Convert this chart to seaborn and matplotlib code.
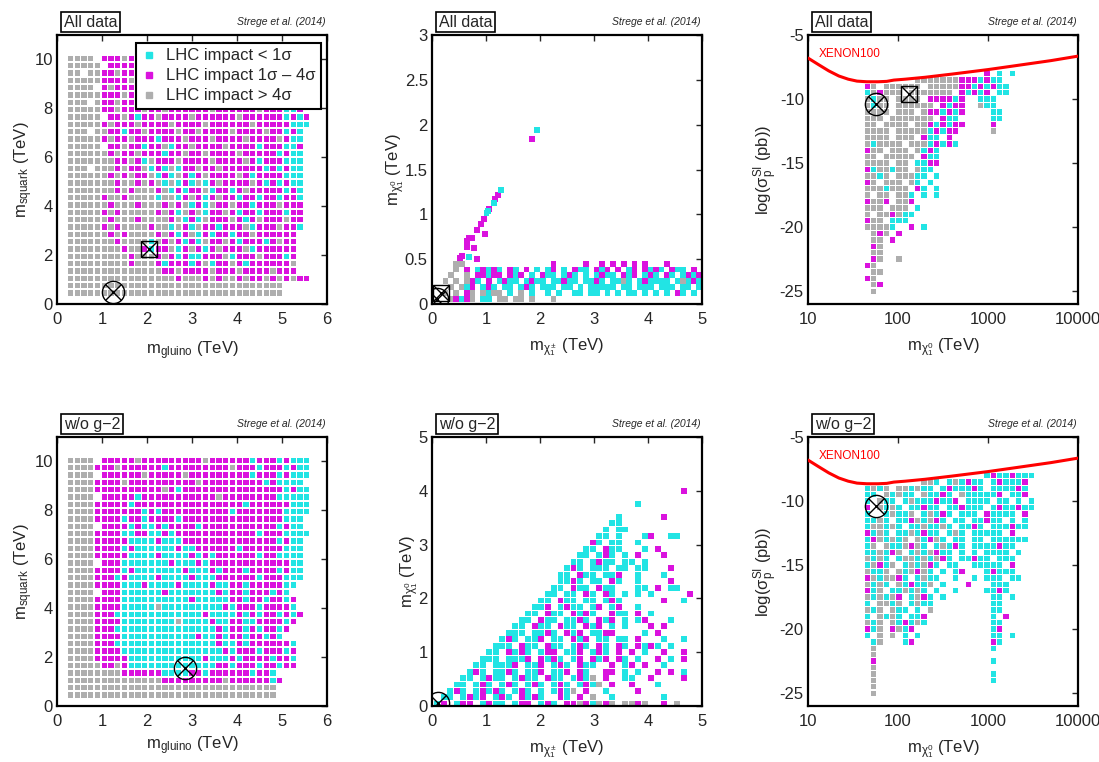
import matplotlib
matplotlib.use("Agg")
import matplotlib.pyplot as plt
from matplotlib.lines import Line2D
from matplotlib.ticker import FuncFormatter, NullLocator
import numpy as np
import pandas as pd
import seaborn as sns

# ---- data ----------------------------------------------------------------
# Occupancy maps of the scatter clouds: one character per cell,
# c = LHC impact < 1 sigma, m = 1-4 sigma, g = > 4 sigma, . = empty.
# Rows run from the top of the cloud downwards.

# gluino/squark, all data: x = 0.3 + 0.15*i TeV, y = 10.05 - 0.3*j TeV
SQUARK_ALL_MAP = [
    "gggg.mmmgmmmmmmmmmmmmmmmmmmmmmmmmm..",
    "ggggg.mmmmgmmmmmmmmmmmmmmmmmmmmmmm..",
    "gg.ggmmgmmmmmmmmmmmmmmmmmmmmmmmmmm..",
    "gggggmmmmgmmmmmmmmmmmmmmmmmmmmmmmmm.",
    "gggg.mgmmmmmmmmmmmmmmmmmmmmmmmmmmmm.",
    "gggggmmmgmmmmmmmmmmmmmmmmmmmmmmmmmmm",
    "ggg.gmmgmmcmmmmmmmmmmmmmmmmmmmmmmmmm",
    "gggggmmgmmmgmmgmmmmmmgmmmmmmgmmmccm",
    "ggggg.mmgmcmmgmmmmgmmmmmmgmmmmmmcmcm",
    "gggggmgmmmgmmmmgmmmmgmmmmmmgmmmmmccc",
    "ggg.ggmmcmmgmmmmgmmgmmmmgmmmmgmmcmc.",
    "gggggmgmmgmmmcmmmgmmmgmmmmgmmmmgmcc.",
    "ggggg.mmgmmcmmgcmmgmmmmgmmmmcmmmccm.",
    "ggggggmgmmgmmmcmmgmmgmmmmgmmmmmcmcc.",
    "gggggggmmgmcgmmmgmmmmgmmmmgmcmmmccc.",
    "ggg.gggmgmmgcmcgcmmgmmgmmmmmmcmcmcc.",
    "ggggggmgmgmmgcmcgmcmgmmmmgmcmmmmccc.",
    "gggggggmggmgmgcgcmcgcmgmmmmgmcmcmcc.",
    "gggggggmgmgggmgcmcmmgcmmcmgmmmmmcmc.",
    "gggggmggmggggcggcmgmcmgmmcmmcmmcmmc.",
    "ggggggmgggmgggmgmgcmcgmmgmmcmmmgmmm.",
    "gggggmgmgggggmgmcgmgcmmgmcmmcmmmcmm.",
    "ggggggmgggmggggmgcmcgmmmgmcmgmmmgmm.",
    "gggggmgmggggmggcgmcgmmcmmmgcmmmgmmc.",
    "ggggggmgmggggmgmcmgcmcmmcmmgmmmmmm..",
    "gggggggmggggcgmgmcmcgmmgmcmmmcmgmm..",
    "ggggggggmggmcmmgcmgmcmgmmmgcmmmmmm..",
    "gggggggggmgggmgmcmccmmmgcmmmgmmmcm..",
    "gggggggggmgggmcmmmcmgcmmgmcmmmmmmg..",
    "ggggggggggggggmmgmmmmgmmmgmmmmgmmm..",
    "ggggggggggggggggmgggmgmggmgmmgmgmgmm..",
    "gggggggggggggggggggggggggggggggg....",
    "gggggggggggggggggggggggggggggggg....",
]

# gluino/squark, without g-2: same cell grid as above
SQUARK_NOG2_MAP = [
    "gggg.mmmmmgmmmmmmmmmgmmmmmmcmmmcmccc",
    "ggggmmmgmmmmmmcmmmmmmmmmgmmmcmmmcmcc",
    "gggg.mmmmmmgmmmmmgmmmmmmmmmcmmmcmccc",
    "ggggmmmmgmmmmmmmmmmgmmmmmmmmmcmcccc.",
    "ggggmmmmmmmmmmgmcmmmmmmmmmmmmmmmcmcc",
    "gggg.mmmmmcmmmmmmmmmmmgmmmmmmmmccccc",
    "ggggmmmmmcmmmmmmmmmmmmmmmmcmmmmmmccc",
    "ggggmmmmmmmcmcmmmmmmmmmmcmmmmmmmcccc.",
    "ggggmmmmcmmcmmmmcmmmmmmmmmmmmmmmccc.",
    "gggg.mmmmcmccmcmmmmcmmmmmmmmmmmcmcc.",
    "ggggmmmmccmmccmcmmmmmmmmmmmmcmmmcccc",
    "ggggmmmmmccccmcccmmmmmmmmmmmmmmcmcc.",
    "ggggmmmmcmccccccmccmmmmmmcmmmmmmccc.",
    "ggggmmmmmccccmccccmcmcmmmmmmcmmcccc.",
    "gggg.mmmcccccccmcccmcmmmmmmmmmmmmcc.",
    "ggggmmmmcmcccccccmcccmcmmmcmmmmcmcc.",
    "ggggmmmcmccccmccccmcccmmmmmmcmmmccc.",
    "ggggmmmmcccmccccmccccmccmmcmmmmmcc..",
    "gggg.mmmccccccmcccccccmcmmcmmmcmc...",
    "ggggmmmmccccccccccmcccccmmcmmcmmcm..",
    "ggggmmmmcccccgcccccccccmcmmmcmmmmc..",
    "ggggmmmcccccccccccccmccccmcmcmmcmcm.",
    "ggggmmmmccccccccgccccmccmmccmmmmcm..",
    "ggggmmmcccccccccccccccmcmmcmcmmcm...",
    "ggggmmmmcccccccccccmccmcmmcmmcmc....",
    "ggggmmmcccccccccccccccmccmcmmmmmmc..",
    "ggggmmmmcccccccccccccccmcmmmcmmmcm..",
    "ggggmmmmmcccccccccccmcccmcmmmmcmmc..",
    "gggggmmgmcccccccccccccmmcmmmcmmcmm..",
    "ggggggggmmmmmmccccmmcmmmmmmcmmc.....",
    "ggggggggggggggmmmmmmmmmgmmmmmmcm....",
    "ggggggggggggggggggggggggggggggg.....",
    "ggggggggggggggggggggggggggggggg.....",
]

# chargino/neutralino band, all data: x = 0.25 + 0.1*i, y = 0.45 - 0.065*j
CHI_ALL_BAND_MAP = [
    "..gg................m.....m..m.m.m.m.m...m......",
    "..g.m.cmcmc.mc.m.c.cm.c.mcc.mcm.m.cm.mcmc.mcc.m.",
    ".g..g.mmcmm.mcm.c.mcc.cmc.c.cmcc.mcm.cmc.mc.cmcm",
    "g.g.gmc.m.cmcc.cmcc.ccmcc.ccmc.ccgc.cmcccc.cgcmc",
    ".g.gcm.cmc.cc.cmc.ccc.cc.c.ccccc.cc.ccc.ccc.cc.c",
    "g.g.mg.gcgg.c.g.c..c.c..cc.cc.c.c.cc.c.c.c.mc.c.",
    ".gmcmg.cc.gg.gg.g...g...........................",
]
# points on the thin diagonal branch and the two high outliers
CHI_ALL_DIAG_X = [0.52, 0.56, 0.64, 0.65, 0.68, 0.74, 0.77, 0.83, 0.90, 0.96,
                  0.98, 1.06, 1.16, 1.22, 0.83, 1.85,
                  0.69, 1.01, 1.04, 1.14, 1.28, 1.94]
CHI_ALL_DIAG_Y = [0.51, 0.54, 0.64, 0.70, 0.74, 0.74, 0.62, 0.83, 0.89, 0.95,
                  0.78, 1.06, 1.17, 1.22, 0.50, 1.84,
                  0.52, 1.01, 1.04, 1.13, 1.27, 1.94]
CHI_ALL_DIAG_C = ["m"] * 16 + ["c"] * 6

# chargino/neutralino, without g-2: x = 0.1 + 0.12*i, y = 4.0 - 0.12*j
CHI_NOG2_MAP = [
    "......................................m..",
    ".........................................",
    "...............................c.........",
    ".........................................",
    "............................c......m.....",
    "...........................cc............",
    "..........................c.cc...........",
    ".........................cc.c...cm..cc...",
    "........................mc.cc..c.........",
    ".......................cc.mcc...c.m......",
    "......................cc.cmc.c.m...m.....",
    ".....................cc.cmcc.cc.c........",
    "....................cmc.ccc.cc.cc...m....",
    "...................cc.mcc.ccm..c...c.....",
    "...................ccmc.cc.mc..c....m....",
    "..................cc.mcc.mcc...cc.m.cc...",
    ".................cc.cc.mc.mc.c.c.c.....m.",
    "................cc.mcc.cc.cmc......m..c..",
    "...............ccm.cmcc.cm.cm..c.........",
    "..............cc.mcc.mcmc..mcc.m.c.......",
    ".............cc.mcc.ccmc.mcm.c.cm...c....",
    "............cc.mcc.mcc.mcm.c.c...m.m.....",
    "...........ccc.ccmc.mcm.ccmm....c.m......",
    "..........cmc.ccm.cc.mcm.cc.cc.m...c..c..",
    ".........ccc.mcc.mcc.cmc.mc.mc.mcmc.c....",
    "........cc.mcmc.cmm.ccm.cmc.m.m.c..m..m..",
    ".......ccc.cccm.mcmc.cm.mcm.mc.c..m.c.m..",
    "......cc.cccm.ccm.cmc.mcc..m.cm.m..c.....",
    ".....cmc.ccmc.ccm.ccm.mc..mm.c.c..m.m.c..",
    "....cc.cmcc.cmcc.mcc.cmcg.m..cc..m....m..",
    "...cc.cmc.cmc.cmc.cmc.cmcg.m..m...c......",
    "..cmc.cmcmc.cmc.c.cmcg.m..c....m.........",
    ".cc.cmcm.cmc.mcmc..mc.m.g..c.......c.....",
    "cm.cmm.cmcc.cmm.cmc.mmgmcgmg.ggmg..m.g...",
]

# log(sigma_SI) vs neutralino mass, all data:
# log10(x) = 1.66 + 0.07*i, y = -8.0 - 0.5*j
SIGMA_ALL_MAP = [
    "...................m.c.c",
    "........gggggggmmmcmcc..",
    "mg.gggggg.gggggmmcmcmcc.",
    "cgmggg.ggggggg.mcmcm.cc.",
    "gcgg.gggg.mmmmcm..ccc...",
    "gcgg.gggggg.mcmm..gcc...",
    "gggg.ggg.gmmcmcm....cc..",
    "ggg.ggggggg.mcc.....cc..",
    "gg.gggg.ggmcmcmm....m...",
    "gggg.gggggcmcmm.....g...",
    "gggg.ggg.mcc.m..........",
    "gcgggg.gggcmcmc.........",
    "mgg.ggg.gcmc............",
    "gg.ggggg.mcc............",
    "gggg.gg.ccmm............",
    "mcggcgg.gcc.............",
    "ggcg.gggcc.c............",
    "mg.ggg.gc.c.............",
    "gggcggg.mc.c............",
    "g.gg.ggc.c.c............",
    "mggm.ggm................",
    "ggg.ggg.c...............",
    "g.ggmgcc................",
    "mgg.ccc.................",
    "ggggc..m.c..............",
    ".gmg.m..................",
    ".gg.m...................",
    ".mg.....................",
    ".gg.....................",
    ".mg..g..................",
    "mg......................",
    ".gg.....................",
    "mg......................",
    ".gm.....................",
    ".g......................",
]

# log(sigma_SI) vs neutralino mass, without g-2:
# log10(x) = 1.66 + 0.07*i, y = -7.5 - 0.5*j
SIGMA_NOG2_MAP = [
    "...........................",
    "...................cmccmccc.",
    ".........ggc.cgcmcc.cmcccm",
    "cgcg.ggcgcc.cmcccmc.ccccmc",
    "cc.gcgcc.gccmc.gcccccm.ccm",
    "c.gcc.cgcccmccm.cccc.cc.c.c",
    "m.gcgc.ccmcc.ccmccc.cmccmcc",
    "c..cgccg.cgcmc.ccc.mcccc.m",
    "ccgc.ccmgcgmc.cc.ccmcc.c.c.",
    "cggcgc.ccgccgc.ccmc.cccmcc.",
    "mcgc.ccgcmcc.cgc.ccccc.m..",
    "cmgcgcg.gcmgc.cc.cc.cccccc..",
    "cg.gccgmgc.cgcmc.ccccmcc...",
    "ccgcmg.cgcgmcc.c.c.cccc.c..",
    "gcgc.cggcgcgmc.ccmcc.ccc...",
    "cgmcg.cgcgmc.cc..ccccc.m...",
    "gccg.gcgmgc.c.cm...cmccc...",
    "mgcggmc.cgcc..c..c.ccc.cc..",
    "gcgc.gcmccg.c...m...ccc....",
    "mcg.ccgcgc.c..c....ccmc....",
    "gcgcgm.cgmc.c.......cc.c...",
    "c.ggcg.cgcc.........cc.....",
    "gcg.gcc.c.g.........cc.....",
    "c.gcgc.ccm..........c.m....",
    "gcg.gcmcgc..........cc.....",
    "mcg.mgcm............cm.....",
    "c.g.g.c.c...........cc.c...",
    ".cg...cm............mc.....",
    ".g..................c......",
    ".g.........................",
    ".m..................c......",
    ".g.........................",
    ".g..................c......",
    ".g..................c......",
    ".g.........................",
    ".g.........................",
]

# XENON100 exclusion limit
XENON_MASS = [10, 13, 17, 22, 28, 35, 45, 60, 75, 90, 120, 200, 400, 1000,
              2000, 5000, 10000]
XENON_SIGMA = [-6.8, -7.3, -7.8, -8.2, -8.45, -8.6, -8.65, -8.65, -8.62,
               -8.52, -8.45, -8.3, -8.05, -7.7, -7.4, -7.0, -6.65]

# best fit (circle) and posterior mean (square) per panel
BEST_FIT = [(1.25, 0.5), (0.10, 0.06), (57, -10.4),
            (2.85, 1.55), (0.12, 0.06), (57, -10.4)]
POST_MEAN = [(2.05, 2.25), (0.167, 0.125), (132, -9.6),
             None, None, None]

IMPACT_LABELS = {"c": "LHC impact < 1σ",
                 "m": "LHC impact 1σ – 4σ",
                 "g": "LHC impact > 4σ"}
PALETTE = {"LHC impact < 1σ": "#22E4E4",
           "LHC impact 1σ – 4σ": "#DA12DE",
           "LHC impact > 4σ": "#AEAEAE"}


def map_to_frame(rows, x0, dx, y0, dy, logx=False):
    recs = []
    for j, row in enumerate(rows):
        for i, ch in enumerate(row):
            if ch in IMPACT_LABELS:
                x = x0 + i * dx
                if logx:
                    x = 10 ** x
                recs.append((x, y0 - j * dy, IMPACT_LABELS[ch]))
    return pd.DataFrame(recs, columns=["x", "y", "impact"])


sq_all = map_to_frame(SQUARK_ALL_MAP, 0.3, 0.15, 10.05, 0.3)
sq_nog2 = map_to_frame(SQUARK_NOG2_MAP, 0.3, 0.15, 10.05, 0.3)
chi_all = pd.concat([
    map_to_frame(CHI_ALL_BAND_MAP, 0.25, 0.1, 0.45, 0.065),
    pd.DataFrame({"x": CHI_ALL_DIAG_X, "y": CHI_ALL_DIAG_Y,
                  "impact": [IMPACT_LABELS[c] for c in CHI_ALL_DIAG_C]}),
], ignore_index=True)
chi_nog2 = map_to_frame(CHI_NOG2_MAP, 0.1, 0.12, 4.0, 0.12)
sig_all = map_to_frame(SIGMA_ALL_MAP, 1.66, 0.07, -8.0, 0.5, logx=True)
sig_nog2 = map_to_frame(SIGMA_NOG2_MAP, 1.66, 0.07, -7.5, 0.5, logx=True)

# ---- figure -------------------------------------------------------------
sns.set_style("white")
plt.rcParams["font.family"] = ["Liberation Sans", "DejaVu Sans"]
plt.rcParams["mathtext.fontset"] = "custom"
plt.rcParams["mathtext.rm"] = "Liberation Sans"
plt.rcParams["mathtext.it"] = "Liberation Sans:italic"

fig = plt.figure(figsize=(10.99, 7.62), dpi=100)
W, H = 1099, 762
lefts = [57, 432, 808]
tops = [35, 437]
aw, ah = 270, 269
axes = []
for t in tops:
    for l in lefts:
        axes.append(fig.add_axes([l / W, 1 - (t + ah) / H, aw / W, ah / H]))

frames = [sq_all, chi_all, sig_all, sq_nog2, chi_nog2, sig_nog2]
sizes = [14, 18, 15, 14, 18, 15]
tags = ["All data"] * 3 + ["w/o g−2"] * 3

fmt = FuncFormatter(lambda v, p: "%g" % v)
for k, ax in enumerate(axes):
    sns.scatterplot(data=frames[k], x="x", y="y", hue="impact",
                    palette=PALETTE, marker="s", s=sizes[k], linewidth=0,
                    legend=False, ax=ax, zorder=2)
    col = k % 3
    if col == 0:
        ax.set_xlim(0, 6)
        ax.set_ylim(0, 11)
        ax.set_xticks(range(0, 7))
        ax.set_yticks(range(0, 11, 2))
        ax.set_xlabel(r"$\mathregular{m_{gluino}}$ (TeV)", fontsize=12,
                      labelpad=9 if k == 0 else 4)
        ax.set_ylabel(r"$\mathregular{m_{squark}}$ (TeV)", fontsize=12, labelpad=-0.5)
    elif col == 1:
        ax.set_xlim(0, 5)
        if k == 1:
            ax.set_ylim(0, 3)
            ax.set_yticks(np.arange(0, 3.01, 0.5))
        else:
            ax.set_ylim(0, 5)
            ax.set_yticks(range(0, 6))
        ax.set_xticks(range(0, 6))
        ax.set_xlabel(r"$\mathregular{m_{\chi^\pm_1}}$ (TeV)", fontsize=12, labelpad=6)
        ax.set_ylabel(r"$\mathregular{m_{\chi^0_1}}$ (TeV)", fontsize=12, labelpad=-1)
    else:
        ax.set_xscale("log")
        ax.set_xlim(10, 10000)
        ax.set_ylim(-26, -5)
        ax.set_xticks([10, 100, 1000, 10000])
        ax.set_yticks(range(-25, -4, 5))
        ax.xaxis.set_minor_locator(NullLocator())
        ax.plot(XENON_MASS, XENON_SIGMA, color="red", lw=2.2, zorder=3)
        ax.text(13, -6.5, "XENON100", color="red", fontsize=8.5, va="center")
        ax.set_xlabel(r"$\mathregular{m_{\chi^0_1}}$ (TeV)", fontsize=12, labelpad=6)
        ax.set_ylabel(r"log($\mathregular{\sigma_p^{SI}}$ (pb))", fontsize=12, labelpad=0)
    ax.xaxis.set_major_formatter(fmt)
    ax.yaxis.set_major_formatter(fmt)
    ax.tick_params(direction="in", top=True, right=True, length=4, width=1,
                   labelsize=12)
    ax.tick_params(axis="x", pad=6)
    ax.tick_params(axis="y", pad=3)
    for sp in ax.spines.values():
        sp.set_linewidth(1.6)
        sp.set_color("black")

    bx, by = BEST_FIT[k]
    ax.plot(bx, by, marker="o", ms=16, mfc="none", mec="black", mew=1, zorder=4)
    ax.plot(bx, by, marker="x", ms=11, mec="black", mew=1, zorder=4)
    if POST_MEAN[k] is not None:
        px, py = POST_MEAN[k]
        ax.plot(px, py, marker="s", ms=12, mfc="none", mec="black", mew=1, zorder=4)
        ax.plot(px, py, marker="x", ms=12, mec="black", mew=1, zorder=4)

    ax.text(0.025, 1.02, tags[k], transform=ax.transAxes, fontsize=11.5,
            va="bottom", ha="left",
            bbox=dict(boxstyle="square,pad=0.15", fc="white", ec="black", lw=1.2))
    ax.text(0.995, 1.03, "Strege et al. (2014)", transform=ax.transAxes,
            fontsize=7.5, style="italic", ha="right", va="bottom")

handles = [Line2D([], [], ls="none", marker="s", ms=4, mfc=c, mec=c, label=lab)
           for lab, c in PALETTE.items()]
leg = axes[0].legend(handles=handles, loc="upper right",
                     bbox_to_anchor=(0.978, 0.972), borderaxespad=0,
                     fontsize=12, frameon=True,
                     fancybox=False, framealpha=1, edgecolor="black",
                     handlelength=0.8, handletextpad=0.6, borderpad=0.35,
                     labelspacing=0.3)
leg.get_frame().set_linewidth(1.5)
leg.set_zorder(10)

fig.savefig("out.png", dpi=100)
